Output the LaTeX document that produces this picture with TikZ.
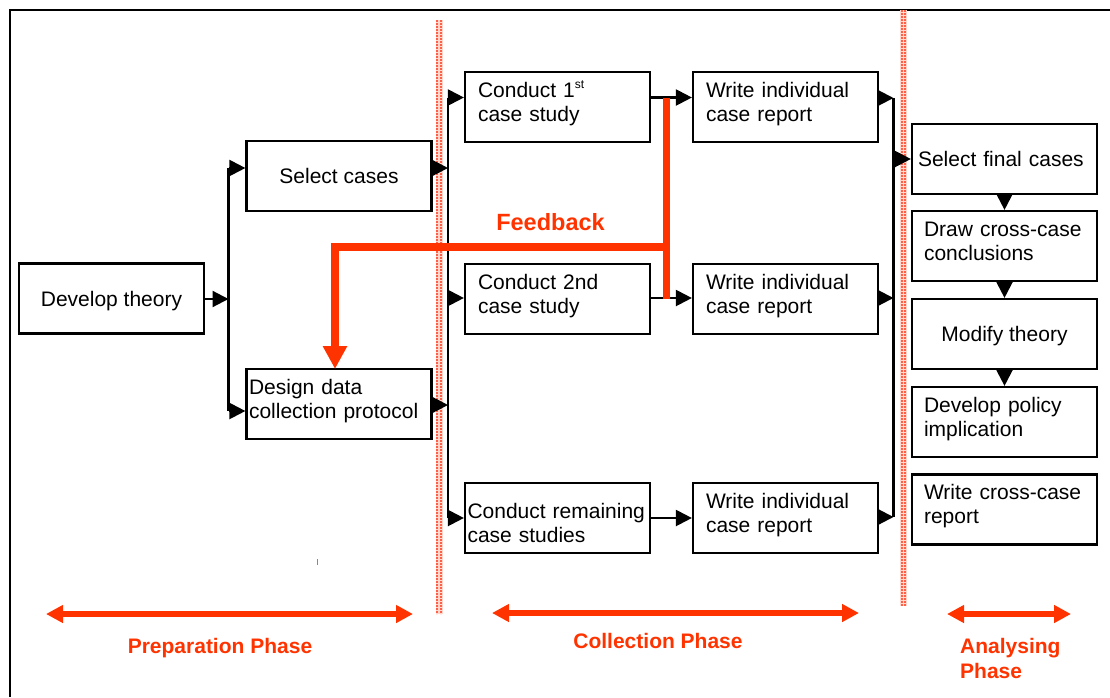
\documentclass[tikz,border=0pt]{standalone}
\usepackage{fontspec}
\setmainfont{Liberation Sans}
\usetikzlibrary{arrows.meta}
\definecolor{fbred}{RGB}{255,51,0}
\definecolor{dotred}{RGB}{255,95,70}
\definecolor{stripbg}{RGB}{255,215,205}
\newcommand\bxfont{\fontsize{21}{24}\selectfont}
\newcommand\phfont{\fontsize{21}{25}\selectfont\bfseries}
\tikzset{
  box/.style={draw, line width=2.2pt, minimum width=185pt, minimum height=70pt, inner sep=0pt, font=\bxfont},
  twoline/.style={text width=#1, align=left, text height=15pt, text depth=35pt},
  midline/.style={text width=#1, align=left, text height=15pt, text depth=15pt},
  oneline/.style={align=center, text height=15pt, text depth=0pt},
  oneleft/.style={text width=#1, align=left, text height=15pt, text depth=0pt},
  bus/.style={line width=2.2pt},
  arr/.style={line width=2.2pt, -{Triangle[length=16pt,width=16pt]}},
  fb/.style={draw=fbred, line width=7.5pt},
  fbarr/.style={fb, -{Triangle[length=23pt,width=23pt]}},
  ph/.style={draw=fbred, line width=5.5pt, {Triangle[length=17pt,width=17pt]}-{Triangle[length=17pt,width=17pt]}},
  phl/.style={text=fbred, font=\phfont, inner sep=0pt, text height=15pt, text depth=0pt},
  strip/.style={draw=dotred, line width=2pt, dash pattern=on 2pt off 1pt},
}
\begin{document}
\begin{tikzpicture}[x=1pt,y=-1pt]
\useasboundingbox (0,0) rectangle (1110,697);
% frame
\draw[line width=2.4pt] (9.7,697) -- (9.7,9.7) -- (1110,9.7);
% dotted phase separators
\fill[stripbg] (435.5,20) rectangle (442.5,614);
\draw[strip] (437.2,20) -- (437.2,614);
\draw[strip] (440.8,20) -- (440.8,614);
\fill[stripbg] (900,10) rectangle (907,606);
\draw[strip] (901.7,10) -- (901.7,606);
\draw[strip] (905.3,10) -- (905.3,606);
% boxes
\node[box, oneline] (dev) at (111.5,298.5) {Develop theory};
\node[box, oneline] (sel) at (339,176) {Select cases};
\node[box, twoline=180pt] (des) at (339,404) {Design data\\collection protocol};
\node[box, twoline=159pt] (c1) at (557.5,107) {Conduct 1\raisebox{9pt}{\fontsize{12}{12}\selectfont st}\\case study};
\node[box, twoline=159pt] (w1) at (785.5,107) {Write individual\\case report};
\node[box, twoline=159pt] (c2) at (557.5,299) {Conduct 2nd\\case study};
\node[box, twoline=159pt] (w2) at (785.5,299) {Write individual\\case report};
\node[box, midline=180pt] (c3) at (557.5,518) {Conduct remaining\\case studies};
\node[box, twoline=159pt] (w3) at (785.5,518) {Write individual\\case report};
\node[box, oneleft=173pt] (sf) at (1004.5,159) {Select final cases};
\node[box, twoline=161pt] (dc) at (1004.5,246) {Draw cross-case\\conclusions};
\node[box, oneline] (mt) at (1004.5,334) {Modify theory};
\node[box, twoline=161pt] (dp) at (1004.5,422) {Develop policy\\implication};
\node[box, twoline=161pt] (wc) at (1004.5,509.5) {Write cross-case\\report};
% bus 1
\coordinate (b1t) at (228.5,168);
\coordinate (b1m) at (228.5,299);
\coordinate (b1b) at (228.5,411);
\draw[bus] (b1t) -- (b1b);
\draw[arr] (dev.east |- b1m) -- (b1m);
\draw[arr] (b1t) -- (b1t -| sel.west);
\draw[arr] (b1b) -- (b1b -| des.west);
% bus 2
\coordinate (b2a) at (448,168);
\coordinate (b2b) at (448,405);
\coordinate (b2t) at (448,97.5);
\coordinate (b2m) at (448,298);
\coordinate (b2z) at (448,518);
\draw[bus] (b2t) -- (b2z);
\draw[arr] (sel.east |- b2a) -- (b2a);
\draw[arr] (des.east |- b2b) -- (b2b);
\draw[arr] (b2t) -- (b2t -| c1.west);
\draw[arr] (b2m) -- (b2m -| c2.west);
\draw[arr] (b2z) -- (b2z -| c3.west);
% case study to report
\draw[arr] (c1.east |- b2t) -- (w1.west |- b2t);
\draw[arr] (c2.east |- b2m) -- (w2.west |- b2m);
\draw[arr] (c3.east |- b2z) -- (w3.west |- b2z);
% bus 3
\coordinate (b3t) at (893.5,98);
\coordinate (b3s) at (893.5,159);
\coordinate (b3m) at (893.5,298);
\coordinate (b3z) at (893.5,517);
\draw[bus] (b3t) -- (b3z);
\draw[arr] (w1.east |- b3t) -- (b3t);
\draw[arr] (w2.east |- b3m) -- (b3m);
\draw[arr] (w3.east |- b3z) -- (b3z);
\draw[arr] (b3s) -- (sf.west);
% analysing chain
\draw[arr] (sf.south) -- (dc.north);
\draw[arr] (dc.south) -- (mt.north);
\draw[arr] (mt.south) -- (dp.north);
% feedback
\coordinate (fbt) at (666.5,98);
\coordinate (fbb) at (666.5,298.5);
\coordinate (fbj) at (666.5,247);
\coordinate (fbe) at (335,369);
\draw[fb] (fbt) -- (fbb);
\draw[fbarr] (fbj) -| (fbe);
\node[text=fbred, font=\fontsize{23.5}{26}\selectfont\bfseries, inner sep=0pt, text height=17pt, text depth=0pt] (fbl) at (550.5,222) {Feedback};
% phase arrows
\coordinate (p1a) at (46,614); \coordinate (p1b) at (413,614);
\coordinate (p2a) at (492,613); \coordinate (p2b) at (859,613);
\coordinate (p3a) at (947,614); \coordinate (p3b) at (1071,614);
\draw[ph] (p1a) -- (p1b);
\draw[ph] (p2a) -- (p2b);
\draw[ph] (p3a) -- (p3b);
\node[phl] (lp) at (220,646) {Preparation Phase};
\node[phl] (lc) at (658,641) {Collection Phase};
\node[text=fbred, font=\phfont, inner sep=0pt, text width=130pt, align=left, anchor=base west] (la) at (960,653.5) {Analysing\\Phase};
% small mark
\draw[fbred!80, line width=0.9pt] (317,559) -- (317,565);
\end{tikzpicture}
\end{document}
